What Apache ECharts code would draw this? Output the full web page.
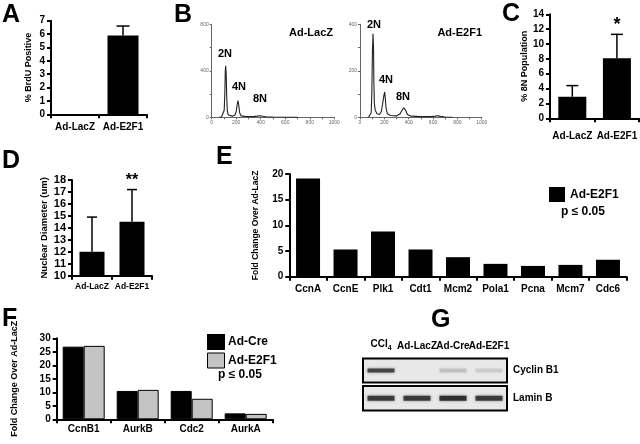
<!DOCTYPE html>
<html><head><meta charset="utf-8">
<script src="https://cdn.jsdelivr.net/npm/echarts@6/dist/echarts.min.js"></script>
<style>html,body{margin:0;padding:0;background:#fff}#c{width:640px;height:444px}</style>
</head><body><div id="c"></div><script>
// ---- Panel A ----
const aCats = ['Ad-LacZ', 'Ad-E2F1'];
const aVals = [0, 5.9];
const aErr = [0, 6.6];
// ---- Panel B (DNA content histograms) ----
const bLacZ = [[60,0],[80,2],[95,10],[102,60],[107,200],[111,400],[114,444],[118,380],[122,200],[127,60],[135,20],[150,12],[170,10],[190,20],[200,50],[208,110],[214,143],[220,110],[228,40],[240,12],[270,8],[300,7],[340,6],[370,10],[385,15],[395,14],[410,6],[450,3],[500,2],[600,1],[700,0]];
const bE2F1 = [[70,0],[85,3],[92,20],[97,100],[102,280],[107,359],[111,300],[114,150],[118,60],[125,30],[140,15],[160,12],[175,25],[185,55],[195,90],[203,109],[208,80],[214,40],[225,15],[250,8],[300,6],[330,15],[345,30],[360,41],[375,30],[390,12],[420,5],[500,3],[580,3],[620,5],[640,7],[660,4],[700,1],[760,0]];
// ---- Panel C ----
const cCats = ['Ad-LacZ', 'Ad-E2F1'];
const cVals = [2.9, 8.1];
const cErr = [4.4, 11.3];
const cSig = ['', '*'];
// ---- Panel D ----
const dCats = ['Ad-LacZ', 'Ad-E2F1'];
const dVals = [12, 14.5];
const dErr = [14.9, 17.2];
const dSig = ['', '**'];
// ---- Panel E ----
const eCats = ['CcnA','CcnE','Plk1','Cdt1','Mcm2','Pola1','Pcna','Mcm7','Cdc6'];
const eVals = [19.1, 5.3, 8.8, 5.3, 3.8, 2.5, 2.1, 2.3, 3.3];
// ---- Panel F ----
const fCats = ['CcnB1','AurkB','Cdc2','AurkA'];
const fCre = [26.9, 10.5, 10.5, 2.2];
const fE2F1 = [27.2, 10.9, 7.6, 2.0];
// ---- Panel G (western blot band intensities) ----
const gLanes = ['CCl4','Ad-LacZ','Ad-Cre','Ad-E2F1'];
const gCyclinB1 = [0.8, 0, 0.15, 0.1];
const gLaminB = [0.85, 0.85, 0.95, 0.85];

const FF = '"Liberation Sans", Arial, sans-serif';
const chart = echarts.init(document.getElementById('c'), null, {renderer: 'canvas'});

function catX(gi, data, margin, fs) {
  return {gridIndex: gi, type: 'category', data,
    axisLine: {lineStyle: {color: '#000', width: 2}},
    axisTick: {show: true, length: 4, lineStyle: {color: '#000', width: 2}},
    axisLabel: {color: '#000', fontWeight: 'bold', fontSize: fs || 10, fontFamily: FF, margin, interval: 0},
    splitLine: {show: false}};
}
function valY(gi, min, max, interval, name, nameGap, nfs, lfs) {
  return {gridIndex: gi, type: 'value', min, max, interval, name, nameLocation: 'middle', nameGap, nameRotate: 90,
    nameTextStyle: {color: '#000', fontWeight: 'bold', fontSize: nfs, fontFamily: FF},
    axisLine: {show: true, lineStyle: {color: '#000', width: 2}},
    axisTick: {show: true, length: 4, lineStyle: {color: '#000', width: 2}},
    axisLabel: {color: '#000', fontWeight: 'bold', fontSize: lfs || 10, fontFamily: FF, margin: 6},
    splitLine: {show: false}};
}
function histX(gi) {
  return {gridIndex: gi, type: 'value', min: 0, max: 1000, interval: 200,
    axisLine: {lineStyle: {color: '#666', width: 1}},
    axisTick: {show: true, length: 2, lineStyle: {color: '#666'}},
    minorTick: {show: true, splitNumber: 2, length: 2, lineStyle: {color: '#666'}},
    axisLabel: {color: '#666', fontSize: 5, margin: 3, fontFamily: FF, formatter: v => String(v)},
    splitLine: {show: false}};
}
function histY(gi, max, interval) {
  return {gridIndex: gi, type: 'value', min: 0, max, interval,
    axisLine: {show: true, lineStyle: {color: '#666', width: 1}},
    axisTick: {show: true, length: 2, lineStyle: {color: '#666'}},
    minorTick: {show: true, splitNumber: 2, length: 2, lineStyle: {color: '#666'}},
    axisLabel: {color: '#666', fontSize: 5, margin: 3, fontFamily: FF, formatter: v => String(v)},
    splitLine: {show: false}};
}
function errSeries(ai, vals, errs, sig, capHalf, sfs) {
  return {type: 'custom', xAxisIndex: ai, yAxisIndex: ai, z: 3,
    data: vals.map((v, i) => [i, v, errs[i]]),
    renderItem(params, api) {
      const i = api.value(0), v = api.value(1), e = api.value(2);
      const children = [];
      const p1 = api.coord([i, e]);
      if (e > v) {
        const p0 = api.coord([i, v]);
        children.push({type: 'line', shape: {x1: p0[0], y1: p0[1], x2: p1[0], y2: p1[1]}, style: {stroke: '#000', lineWidth: 1.5}});
        children.push({type: 'line', shape: {x1: p1[0] - capHalf, y1: p1[1], x2: p1[0] + capHalf, y2: p1[1]}, style: {stroke: '#000', lineWidth: 1.5}});
      }
      const s = sig && sig[params.dataIndex];
      if (s) children.push({type: 'text', x: p1[0], y: p1[1] - 9, style: {text: s, fill: '#000', font: 'bold ' + sfs + 'px ' + FF, align: 'center', verticalAlign: 'middle'}});
      return {type: 'group', children};
    }};
}
function blotX(gi, showLabels) {
  return {gridIndex: gi, type: 'category', data: gLanes, position: 'top',
    axisLine: {show: false}, axisTick: {show: false},
    axisLabel: {show: showLabels, color: '#000', fontWeight: 'bold', fontSize: 10, fontFamily: FF, margin: 7, interval: 0,
      formatter: v => v === 'CCl4' ? 'CCl{s|4}' : v,
      rich: {s: {fontSize: 7, fontWeight: 'bold', fontFamily: FF, color: '#000', padding: [7, 0, 0, 0]}}},
    splitLine: {show: false}};
}
function blotY(gi, label) {
  return {gridIndex: gi, type: 'category', data: [label], position: 'right',
    axisLine: {show: false}, axisTick: {show: false},
    axisLabel: {color: '#000', fontWeight: 'bold', fontSize: 10, fontFamily: FF, margin: 6},
    splitLine: {show: false}};
}
function bandSeries(ai, vals, h) {
  return {type: 'scatter', xAxisIndex: ai, yAxisIndex: ai, symbol: 'rect', symbolSize: [27, h],
    itemStyle: {color: '#2a2a2a', shadowBlur: 3, shadowColor: 'rgba(40,40,40,0.6)'},
    data: vals.map((v, i) => ({value: [i, 0], itemStyle: {opacity: v}})), silent: true};
}
function letter(t, x, y) {
  return {type: 'text', x, y, style: {text: t, fill: '#000', font: 'bold 25px ' + FF}};
}
function txt(t, x, y, fs, align) {
  return {type: 'text', x, y, style: {text: t, fill: '#000', font: 'bold ' + fs + 'px ' + FF, align: align || 'left', verticalAlign: 'middle'}};
}

const option = {
  animation: false,
  backgroundColor: '#fff',
  grid: [
    {left: 51, top: 20.7, width: 96, height: 93.6},          // 0 A
    {left: 211.7, top: 24.3, width: 122.6, height: 93},      // 1 B left
    {left: 360, top: 24.3, width: 121.7, height: 93},        // 2 B right
    {left: 550, top: 14.3, width: 90, height: 104},          // 3 C
    {left: 72, top: 180, width: 80, height: 95.7},           // 4 D
    {left: 289.3, top: 174, width: 337.4, height: 102.7},    // 5 E
    {left: 56.7, top: 338.3, width: 216, height: 81},        // 6 F
    {left: 363, top: 358.5, width: 144, height: 24, show: true, backgroundColor: '#e8e8e8', borderColor: '#000', borderWidth: 2}, // 7 G top
    {left: 363, top: 386, width: 144, height: 24.5, show: true, backgroundColor: '#e8e8e8', borderColor: '#000', borderWidth: 2}  // 8 G bottom
  ],
  xAxis: [
    catX(0, aCats, 8),
    histX(1), histX(2),
    catX(3, cCats, 13),
    catX(4, dCats, 6, 8.5),
    catX(5, eCats, 8),
    catX(6, fCats, 5),
    blotX(7, true), blotX(8, false)
  ],
  yAxis: [
    valY(0, 0, 7, 1, '% BrdU Positive', 18, 9),
    histY(1, 800, 400), histY(2, 400, 200),
    valY(3, 0, 14, 2, '% 8N Population', 21, 9),
    Object.assign(valY(4, 10, 18, 1, 'Nuclear Diameter (um)', 18, 9.5, 11), {startValue: 10}),
    valY(5, 0, 20, 5, 'Fold Change Over Ad-LacZ', 29, 8.5),
    valY(6, 0, 30, 5, 'Fold Change Over Ad-LacZ', 38, 9),
    blotY(7, 'Cyclin B1'), blotY(8, 'Lamin B')
  ],
  series: [
    {type: 'bar', xAxisIndex: 0, yAxisIndex: 0, data: aVals, barWidth: 31, itemStyle: {color: '#000'}},
    errSeries(0, aVals, aErr, null, 6.5, 18),
    {type: 'line', xAxisIndex: 1, yAxisIndex: 1, data: bLacZ, showSymbol: false, lineStyle: {color: '#222', width: 1.1}},
    {type: 'line', xAxisIndex: 2, yAxisIndex: 2, data: bE2F1, showSymbol: false, lineStyle: {color: '#222', width: 1.1}},
    {type: 'bar', xAxisIndex: 3, yAxisIndex: 3, data: cVals, barWidth: 28, itemStyle: {color: '#000'}},
    errSeries(3, cVals, cErr, cSig, 6, 18),
    {type: 'bar', xAxisIndex: 4, yAxisIndex: 4, data: dVals, barWidth: 25, clip: true, itemStyle: {color: '#000'}},
    errSeries(4, dVals, dErr, dSig, 5, 16),
    {type: 'bar', name: 'Ad-E2F1', xAxisIndex: 5, yAxisIndex: 5, data: eVals, barWidth: 24, itemStyle: {color: '#000'}},
    {type: 'bar', name: 'Ad-Cre', xAxisIndex: 6, yAxisIndex: 6, data: fCre, barWidth: 21, barGap: '0%', itemStyle: {color: '#000', borderColor: '#000', borderWidth: 1}},
    {type: 'bar', name: 'Ad-E2F1', xAxisIndex: 6, yAxisIndex: 6, data: fE2F1, barWidth: 21, barGap: '0%', itemStyle: {color: '#c4c4c4', borderColor: '#000', borderWidth: 1}},
    bandSeries(7, gCyclinB1, 4),
    bandSeries(8, gLaminB, 5)
  ],
  graphic: [
    letter('A', 2, 3), letter('B', 174, 3), letter('C', 502, 2), letter('D', 2, 149),
    letter('E', 216, 145), letter('F', 2, 307), letter('G', 431, 308),
    txt('Ad-LacZ', 333, 33, 11, 'right'), txt('2N', 225, 54, 11, 'center'), txt('4N', 239, 87, 11, 'center'), txt('8N', 260, 99, 11, 'center'),
    txt('Ad-E2F1', 482, 33, 11, 'right'), txt('2N', 374, 25, 11, 'center'), txt('4N', 386, 80, 11, 'center'), txt('8N', 403, 97, 11, 'center'),
    {type: 'rect', shape: {x: 549, y: 187, width: 16, height: 15}, style: {fill: '#000'}},
    txt('Ad-E2F1', 570, 194.5, 12), txt('p \u2264 0.05', 583, 212, 12, 'center'),
    {type: 'rect', shape: {x: 207, y: 334, width: 18, height: 16}, style: {fill: '#000'}},
    txt('Ad-Cre', 228, 342, 12),
    {type: 'rect', shape: {x: 207.5, y: 353, width: 17, height: 15}, style: {fill: '#c4c4c4', stroke: '#000', lineWidth: 1}},
    txt('Ad-E2F1', 228, 360.5, 12), txt('p \u2264 0.05', 240, 375, 12, 'center')
  ]
};
chart.setOption(option);
</script></body></html>
